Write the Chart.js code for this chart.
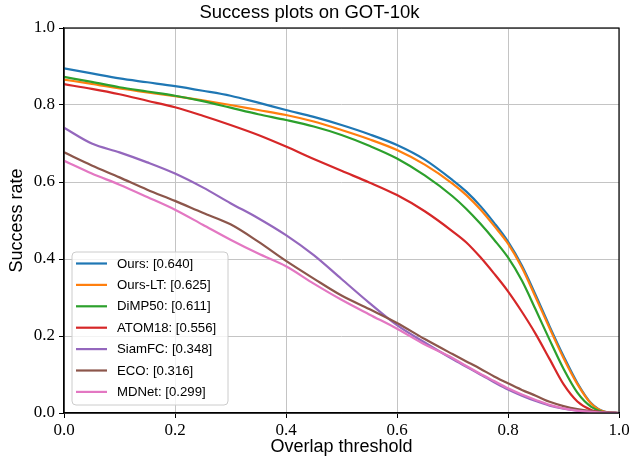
<!DOCTYPE html>
<html>
<head>
<meta charset="utf-8">
<script src="https://cdn.jsdelivr.net/npm/chart.js@4/dist/chart.umd.min.js"></script>
<style>
  html, body { margin: 0; padding: 0; background: #fff; }
  #wrap { width: 629px; height: 458px; }
</style>
</head>
<body>
<div id="wrap"><canvas id="myChart" width="629" height="458"></canvas></div>
<script>
// overlap thresholds (x) and success rates
const thresholds = [0, 0.05, 0.1, 0.15, 0.2, 0.25, 0.3, 0.35, 0.4, 0.45, 0.5, 0.55, 0.6, 0.65, 0.7,
                    0.725, 0.75, 0.775, 0.8, 0.825, 0.85, 0.875, 0.9, 0.925, 0.95, 0.975, 1.0];

const ours   = [0.895, 0.882, 0.869, 0.859, 0.849, 0.837, 0.824, 0.806, 0.787, 0.769, 0.748, 0.724, 0.696, 0.658, 0.605,
                0.575, 0.538, 0.494, 0.445, 0.383, 0.306, 0.225, 0.148, 0.078, 0.025, 0.003, 0];
const oursLT = [0.866, 0.855, 0.843, 0.833, 0.823, 0.812, 0.800, 0.787, 0.774, 0.757, 0.735, 0.711, 0.683, 0.645, 0.596,
                0.566, 0.529, 0.486, 0.440, 0.378, 0.300, 0.220, 0.143, 0.075, 0.024, 0.003, 0];
const dimp50 = [0.873, 0.860, 0.846, 0.835, 0.824, 0.810, 0.793, 0.776, 0.761, 0.744, 0.722, 0.694, 0.661, 0.617, 0.563,
                0.530, 0.492, 0.450, 0.404, 0.344, 0.268, 0.190, 0.115, 0.053, 0.016, 0.002, 0];
const atom18 = [0.854, 0.842, 0.828, 0.811, 0.794, 0.772, 0.748, 0.722, 0.692, 0.660, 0.629, 0.599, 0.566, 0.524, 0.472,
                0.443, 0.405, 0.362, 0.316, 0.263, 0.205, 0.140, 0.075, 0.030, 0.008, 0.001, 0];
const siamfc = [0.741, 0.700, 0.677, 0.651, 0.622, 0.586, 0.545, 0.506, 0.462, 0.410, 0.348, 0.286, 0.228, 0.183, 0.140,
                0.120, 0.100, 0.080, 0.061, 0.045, 0.031, 0.019, 0.011, 0.006, 0.003, 0.001, 0];
const eco    = [0.677, 0.643, 0.612, 0.580, 0.551, 0.520, 0.490, 0.445, 0.395, 0.349, 0.305, 0.270, 0.234, 0.192, 0.153,
                0.134, 0.115, 0.095, 0.077, 0.060, 0.045, 0.029, 0.018, 0.010, 0.005, 0.002, 0];
const mdnet  = [0.655, 0.622, 0.593, 0.561, 0.528, 0.489, 0.450, 0.414, 0.381, 0.336, 0.294, 0.256, 0.219, 0.178, 0.143,
                0.122, 0.102, 0.083, 0.064, 0.048, 0.034, 0.021, 0.012, 0.006, 0.003, 0.001, 0];

const labels = ['Ours: [0.640]', 'Ours-LT: [0.625]', 'DiMP50: [0.611]', 'ATOM18: [0.556]', 'SiamFC: [0.348]', 'ECO: [0.316]', 'MDNet: [0.299]'];
const series = [ours, oursLT, dimp50, atom18, siamfc, eco, mdnet];
const colors = ['#1f77b4', '#ff7f0e', '#2ca02c', '#d62728', '#9467bd', '#8c564b', '#e377c2'];

const xTicks = [0, 0.2, 0.4, 0.6, 0.8, 1.0];
const yTicks = [0, 0.2, 0.4, 0.6, 0.8, 1.0];

const datasets = series.map((vals, i) => ({
    label: labels[i],
    data: vals.map((v, j) => ({ x: thresholds[j], y: v })),
    borderColor: colors[i],
    backgroundColor: colors[i],
    borderWidth: 2.2,
    pointRadius: 0,
    cubicInterpolationMode: 'monotone',
    order: series.length - i // later series on top, like matplotlib
}));

// matplotlib-like frame on all four sides
const framePlugin = {
    id: 'frame',
    afterDatasetsDraw(chart) {
        const { ctx, chartArea: a } = chart;
        ctx.save();
        ctx.strokeStyle = '#000';
        ctx.lineWidth = 1.2;
        ctx.strokeRect(a.left, a.top, a.right - a.left, a.bottom - a.top);
        ctx.restore();
    }
};

// legend box inside the plot, lower left
const legendPlugin = {
    id: 'innerLegend',
    afterDraw(chart) {
        const { ctx } = chart;
        const bx = 72, by = 252, bw = 156, bh = 153, r = 4;
        ctx.save();
        ctx.beginPath();
        ctx.moveTo(bx + r, by);
        ctx.arcTo(bx + bw, by, bx + bw, by + bh, r);
        ctx.arcTo(bx + bw, by + bh, bx, by + bh, r);
        ctx.arcTo(bx, by + bh, bx, by, r);
        ctx.arcTo(bx, by, bx + bw, by, r);
        ctx.closePath();
        ctx.fillStyle = 'rgba(255,255,255,0.8)';
        ctx.fill();
        ctx.strokeStyle = '#cccccc';
        ctx.lineWidth = 1;
        ctx.stroke();

        ctx.font = '13.2px "Liberation Sans", Arial, sans-serif';
        ctx.textBaseline = 'middle';
        ctx.fillStyle = '#000';
        chart.data.datasets.forEach((ds, i) => {
            const y = 263.5 + i * 21.4;
            ctx.beginPath();
            ctx.moveTo(76, y);
            ctx.lineTo(107, y);
            ctx.strokeStyle = ds.borderColor;
            ctx.lineWidth = 2.2;
            ctx.stroke();
            ctx.fillText(ds.label, 117, y + 0.5);
        });
        ctx.restore();
    }
};

const tickFont = { family: '"Liberation Serif", "DejaVu Serif", serif', size: 17 };
const labelFont = { family: '"Liberation Sans", Arial, sans-serif', size: 18 };

new Chart(document.getElementById('myChart'), {
    type: 'line',
    data: { datasets: datasets },
    options: {
        responsive: false,
        animation: false,
        layout: { padding: { left: 0, right: 10, top: 0, bottom: 0 } },
        plugins: {
            legend: { display: false },
            tooltip: { enabled: false },
            title: {
                display: true,
                text: 'Success plots on GOT-10k',
                color: '#000',
                font: { family: '"Liberation Sans", Arial, sans-serif', size: 18.5, weight: 'normal' },
                padding: { top: 2, bottom: 3.8 }
            }
        },
        scales: {
            x: {
                type: 'linear',
                min: 0,
                max: 1,
                afterBuildTicks: scale => { scale.ticks = xTicks.map(v => ({ value: v })); },
                afterFit: scale => { scale.height = 45; scale.paddingLeft = 0; scale.paddingRight = 0; },
                ticks: {
                    color: '#000',
                    font: tickFont,
                    padding: 2,
                    maxRotation: 0,
                    callback: v => v.toFixed(1)
                },
                grid: { color: '#c4c4c4', lineWidth: 1, tickColor: '#000', tickLength: 5, tickWidth: 1 },
                border: { color: '#000', width: 1.2 },
                title: { display: true, text: 'Overlap threshold', color: '#000', font: labelFont, padding: { top: 0, bottom: 0 } }
            },
            y: {
                min: 0,
                max: 1,
                afterBuildTicks: scale => { scale.ticks = yTicks.map(v => ({ value: v })); },
                afterFit: scale => { scale.width = 64; scale.paddingTop = 0; scale.paddingBottom = 0; },
                ticks: {
                    color: '#000',
                    font: tickFont,
                    padding: 4,
                    callback: v => v.toFixed(1)
                },
                grid: { color: '#c4c4c4', lineWidth: 1, tickColor: '#000', tickLength: 5, tickWidth: 1 },
                border: { color: '#000', width: 1.2 },
                title: { display: true, text: 'Success rate', color: '#000', font: labelFont, padding: { top: 6, bottom: 0 } }
            }
        }
    },
    plugins: [framePlugin, legendPlugin]
});
</script>
</body>
</html>
